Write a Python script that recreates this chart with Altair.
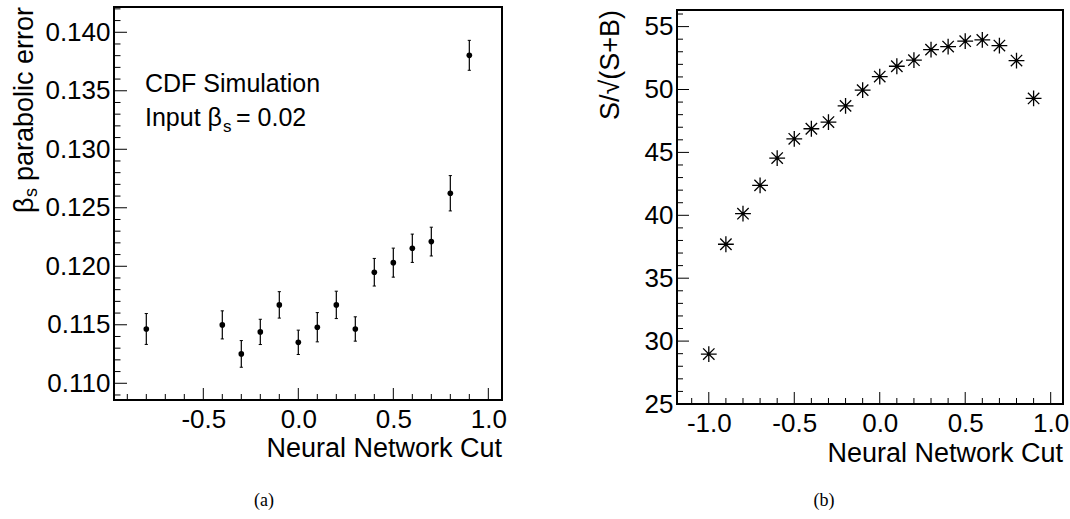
import altair as alt
import pandas as pd

# ---------------- data ----------------
left_x = [-0.8, -0.4, -0.3, -0.2, -0.1, 0.0, 0.1, 0.2, 0.3, 0.4, 0.5, 0.6, 0.7, 0.8, 0.9]
left_y = [0.11464, 0.11499, 0.11251, 0.11439, 0.11670, 0.11350, 0.11479, 0.11670,
          0.11464, 0.11949, 0.12031, 0.12154, 0.12211, 0.12624, 0.13803]
left_err = [0.00132, 0.00120, 0.00114, 0.00108, 0.00113, 0.00104, 0.00125, 0.00117,
            0.00104, 0.00118, 0.00124, 0.00121, 0.00123, 0.00151, 0.00128]

right_x = [-1.0, -0.9, -0.8, -0.7, -0.6, -0.5, -0.4, -0.3, -0.2, -0.1,
           0.0, 0.1, 0.2, 0.3, 0.4, 0.5, 0.6, 0.7, 0.8, 0.9]
right_y = [28.97, 37.70, 40.13, 42.38, 44.55, 46.08, 46.88, 47.41, 48.70, 49.95,
           51.03, 51.85, 52.33, 53.17, 53.41, 53.84, 53.94, 53.49, 52.30, 49.29]

# axis ranges and tick values
left_xdom = [-0.970, 1.072]
left_ydom = [0.10857, 0.14216]
right_xdom = [-1.186, 1.072]
right_ydom = [25.0, 56.32]

left_xmajor = [-0.5, 0.0, 0.5, 1.0]
left_xminor = [-0.9, -0.8, -0.7, -0.6, -0.4, -0.3, -0.2, -0.1,
               0.1, 0.2, 0.3, 0.4, 0.6, 0.7, 0.8, 0.9]
left_ymajor = [0.110, 0.115, 0.120, 0.125, 0.130, 0.135, 0.140]
left_yminor = [0.109, 0.111, 0.112, 0.113, 0.114, 0.116, 0.117, 0.118, 0.119,
               0.121, 0.122, 0.123, 0.124, 0.126, 0.127, 0.128, 0.129,
               0.131, 0.132, 0.133, 0.134, 0.136, 0.137, 0.138, 0.139, 0.141, 0.142]

right_xmajor = [-1.0, -0.5, 0.0, 0.5, 1.0]
right_xminor = [-1.1, -0.9, -0.8, -0.7, -0.6, -0.4, -0.3, -0.2, -0.1,
                0.1, 0.2, 0.3, 0.4, 0.6, 0.7, 0.8, 0.9]
right_ymajor = [25, 30, 35, 40, 45, 50, 55]
right_yminor = [26, 27, 28, 29, 31, 32, 33, 34, 36, 37, 38, 39, 41, 42, 43, 44,
                46, 47, 48, 49, 51, 52, 53, 54, 56]

# ---------------- style ----------------
FONT = "Liberation Sans"
SERIF = "Liberation Serif"
LABEL_SIZE = 26
TITLE_SIZE = 27
LW, LH = 388, 393          # left plot area
RW, RH = 386, 397          # right plot group (frame drawn from RTOP to RH)
RTOP = 3
MINUS_FIX = "replace(datum.label, '\u2212', '-')"


def xaxis(values, fmt):
    return alt.Axis(values=values, format=fmt, labelExpr=MINUS_FIX, grid=False,
                    domain=False, ticks=False, tickSize=0, labelPadding=6,
                    labelFont=FONT, labelFontSize=LABEL_SIZE, labelColor="black",
                    labelFlush=False, labelOverlap=False, title=None)


def yaxis(values, fmt):
    return alt.Axis(values=values, format=fmt, grid=False, domain=False,
                    ticks=False, tickSize=0, labelPadding=4, labelFont=FONT,
                    labelFontSize=LABEL_SIZE, labelColor="black",
                    labelFlush=False, labelOverlap=False, title=None)


def txt(text, x, y, size=LABEL_SIZE, align="left", angle=0, font=FONT, baseline="alphabetic"):
    kw = dict(align=align, baseline=baseline, font=font, fontSize=size, color="black")
    if angle:
        kw["angle"] = angle
    return alt.Chart(pd.DataFrame({"t": [text]})).mark_text(**kw).encode(
        text="t:N", x=alt.value(x), y=alt.value(y))


def anchor(x, y):
    return alt.Chart(pd.DataFrame({"a": [0]})).mark_rule(
        color="transparent", strokeWidth=0).encode(
        x=alt.value(x), x2=alt.value(x), y=alt.value(y), y2=alt.value(y))


def frame(w, top, bottom):
    return alt.Chart(pd.DataFrame({"a": [0]})).mark_rect(
        fillOpacity=0, stroke="black", strokeWidth=2).encode(
        x=alt.value(0), x2=alt.value(w), y=alt.value(top), y2=alt.value(bottom))


def build_ticks(xsc, ysc, xax, yax, xmaj, xmin, ymaj, ymin, h, ylen, xlen):
    layers = []
    for vals, ln in ((ymaj, ylen[0]), (ymin, ylen[1])):
        layers.append(alt.Chart(pd.DataFrame({"v": vals})).mark_rule(
            color="black", strokeWidth=1).encode(
            y=alt.Y("v:Q", scale=ysc, axis=yax),
            x=alt.value(0), x2=alt.value(ln)))
    for vals, ln in ((xmaj, xlen[0]), (xmin, xlen[1])):
        layers.append(alt.Chart(pd.DataFrame({"v": vals})).mark_rule(
            color="black", strokeWidth=1).encode(
            x=alt.X("v:Q", scale=xsc, axis=xax),
            y=alt.value(h), y2=alt.value(h - ln)))
    return layers


# ---------------- left panel ----------------
ldf = pd.DataFrame({"x": left_x, "y": left_y, "err": left_err})
ldf["lo"] = ldf["y"] - ldf["err"]
ldf["hi"] = ldf["y"] + ldf["err"]

lx = alt.Scale(domain=left_xdom, nice=False, zero=False)
ly = alt.Scale(domain=left_ydom, nice=False, zero=False)
lxax = xaxis(left_xmajor, ".1f")
lyax = yaxis(left_ymajor, ".3f")

lbase = alt.Chart(ldf)
l_bars = lbase.mark_rule(color="black", strokeWidth=1.2).encode(
    x=alt.X("x:Q", scale=lx, axis=lxax),
    y=alt.Y("lo:Q", scale=ly, axis=lyax),
    y2="hi:Q")
l_cap_lo = lbase.mark_rule(color="black", strokeWidth=1, xOffset=-1.6, x2Offset=1.6).encode(
    x=alt.X("x:Q", scale=lx, axis=lxax), x2="x:Q", y=alt.Y("lo:Q", scale=ly, axis=lyax))
l_cap_hi = lbase.mark_rule(color="black", strokeWidth=1, xOffset=-1.6, x2Offset=1.6).encode(
    x=alt.X("x:Q", scale=lx, axis=lxax), x2="x:Q", y=alt.Y("hi:Q", scale=ly, axis=lyax))
l_pts = lbase.mark_circle(color="black", size=32, opacity=1).encode(
    x=alt.X("x:Q", scale=lx, axis=lxax), y=alt.Y("y:Q", scale=ly, axis=lyax))

left = alt.layer(
    frame(LW, 0, LH),
    *build_ticks(lx, ly, lxax, lyax, left_xmajor, left_xminor, left_ymajor, left_yminor,
                 LH, (13, 6.5), (12, 6)),
    l_bars, l_cap_lo, l_cap_hi, l_pts,
    txt("CDF Simulation", 31, 85, size=25),
    txt("Input \u03b2", 31, 118.5, size=25),
    txt("s", 109, 124.5, size=17),
    txt("= 0.02", 122, 118.5, size=25),
    txt("\u03b2", -81, 206, size=TITLE_SIZE, angle=270),
    txt("s", -77, 190, size=18, angle=270),
    txt("parabolic error", -81, 174, size=TITLE_SIZE, angle=270),
    txt("Neural Network Cut", LW, 450, size=TITLE_SIZE, align="right"),
    txt("(a)", 150, 499, size=18, align="center", font=SERIF),
    anchor(-114, -7),
    anchor(LW + 10, -7),
).properties(width=LW, height=LH)

# ---------------- right panel ----------------
rdf = pd.DataFrame({"x": right_x, "y": right_y})
rx = alt.Scale(domain=right_xdom, nice=False, zero=False)
ry = alt.Scale(domain=right_ydom, nice=False, zero=False, range=[RH, RTOP])
rxax = xaxis(right_xmajor, ".1f")
ryax = yaxis(right_ymajor, "d")

STAR = "M-1,0L1,0M0,-1L0,1M-0.72,-0.72L0.72,0.72M-0.72,0.72L0.72,-0.72"
r_pts = alt.Chart(rdf).mark_point(shape=STAR, size=250, filled=False, color="black",
                                  strokeWidth=1.3, opacity=1).encode(
    x=alt.X("x:Q", scale=rx, axis=rxax),
    y=alt.Y("y:Q", scale=ry, axis=ryax))
r_dot = alt.Chart(rdf).mark_circle(color="black", size=8, opacity=1).encode(
    x=alt.X("x:Q", scale=rx, axis=rxax), y=alt.Y("y:Q", scale=ry, axis=ryax))

right = alt.layer(
    frame(RW, RTOP, RH),
    *build_ticks(rx, ry, rxax, ryax, right_xmajor, right_xminor, right_ymajor, right_yminor,
                 RH, (12, 6), (12, 6)),
    r_pts, r_dot,
    txt("S/\u221a(S+B)", -58, RTOP, size=TITLE_SIZE, angle=270, align="right"),
    txt("Neural Network Cut", RW, 455, size=TITLE_SIZE, align="right"),
    txt("(b)", 147, 499, size=18, align="center", font=SERIF),
    anchor(-100, -7),
).properties(width=RW, height=RH)

chart = alt.hconcat(left, right, spacing=65).properties(
    padding={"left": 0, "top": 0, "right": 0, "bottom": 0},
    background="white",
).configure_view(strokeWidth=0)

chart.save("out.html", embed_options={"renderer": "svg", "actions": False})
